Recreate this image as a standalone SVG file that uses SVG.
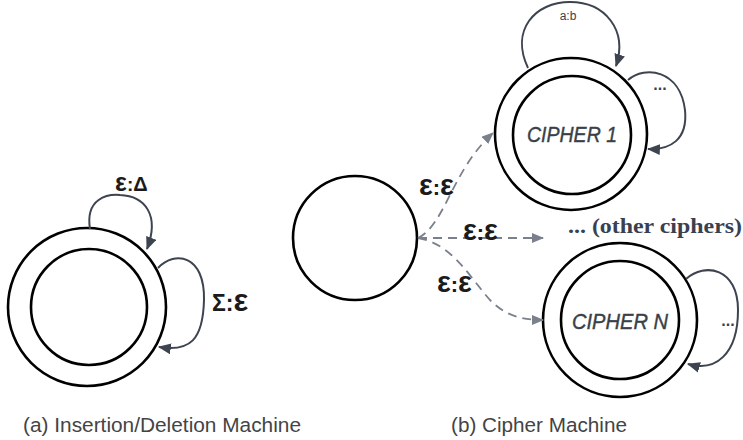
<svg xmlns="http://www.w3.org/2000/svg" width="743" height="440" viewBox="0 0 743 440">
  <style>
    .ring { fill: none; stroke: #000; stroke-width: 2.6; }
    .loop { fill: none; stroke: #3d4450; stroke-width: 2; }
    .eps { fill: none; stroke: #7b818c; stroke-width: 1.8; stroke-dasharray: 9 6; }
    .lbl { font-family: "Liberation Sans", Arial, sans-serif; font-weight: bold; fill: #1b1b1b; }
    .state { font-family: "Liberation Sans", Arial, sans-serif; font-style: italic; font-size: 22px; fill: #3a3f48; stroke: #3a3f48; stroke-width: 0.4; text-anchor: middle; }
    .small { font-family: "Liberation Sans", Arial, sans-serif; font-size: 12px; fill: #3a3f48; text-anchor: middle; }
    .dots { font-family: "Liberation Sans", Arial, sans-serif; font-weight: bold; font-size: 16px; fill: #3a3f48; text-anchor: middle; }
    .cap { font-family: "Liberation Sans", Arial, sans-serif; font-size: 20.5px; fill: #444; }
    .note { font-family: "Liberation Serif", "Times New Roman", serif; font-weight: bold; font-size: 22px; fill: #3a4050; }
  </style>
  <defs>
    <marker id="head" viewBox="0 0 12 10" refX="11" refY="5" markerWidth="13" markerHeight="11" markerUnits="userSpaceOnUse" orient="auto">
      <path d="M0 0 L12 5 L0 10 Z" fill="#3d4450"/>
    </marker>
    <marker id="head-dash" viewBox="0 0 12 10" refX="11" refY="5" markerWidth="12" markerHeight="10" markerUnits="userSpaceOnUse" orient="auto">
      <path d="M0 0 L12 5 L0 10 Z" fill="#7b818c"/>
    </marker>
  </defs>

  <!-- (a) insertion/deletion machine -->
  <g id="insdel-state">
    <circle class="ring" cx="87" cy="307" r="79"/>
    <circle class="ring" cx="89" cy="307" r="58"/>
  </g>

  <!-- (b) cipher machine states -->
  <g id="start-state">
    <circle class="ring" cx="355" cy="238" r="62"/>
  </g>
  <g id="cipher-1">
    <circle class="ring" cx="571" cy="134" r="76"/>
    <circle class="ring" cx="572" cy="135" r="59"/>
    <text class="state" x="572" y="142" textLength="90" lengthAdjust="spacingAndGlyphs">CIPHER 1</text>
  </g>
  <g id="cipher-n">
    <circle class="ring" cx="620" cy="320" r="77"/>
    <circle class="ring" cx="620" cy="320" r="59"/>
    <text class="state" x="620" y="329" textLength="96" lengthAdjust="spacingAndGlyphs">CIPHER N</text>
  </g>

  <g id="connectors">
    <!-- self loops -->
    <path class="loop" d="M 90 229 C 85 198, 108 194, 120 195 C 145 196, 160 215, 147 249" marker-end="url(#head)"/>
    <path class="loop" d="M 158 268 C 175 250, 205 255, 204 300 C 203 340, 190 352, 159 347" marker-end="url(#head)"/>
    <path class="loop" d="M 528 68 C 510 30, 535 2, 570 2 C 605 2, 628 30, 616 66" marker-end="url(#head)"/>
    <path class="loop" d="M 628 80 C 645 65, 680 70, 685 110 C 688 140, 670 150, 648 149" marker-end="url(#head)"/>
    <path class="loop" d="M 686 279 C 705 262, 738 268, 738 310 C 738 355, 715 372, 688 364" marker-end="url(#head)"/>
    <!-- epsilon transitions from the start state -->
    <path class="eps" d="M 418 238 C 445 225, 452 170, 493 133" marker-end="url(#head-dash)"/>
    <path class="eps" d="M 418 238 L 543 238" marker-end="url(#head-dash)"/>
    <path class="eps" d="M 418 238 C 452 244, 468 275, 490 300 C 505 315, 520 320, 543 320" marker-end="url(#head-dash)"/>
  </g>

  <g id="labels">
    <text class="lbl" x="115" y="191" font-size="19"><tspan font-size="25">ε</tspan>:<tspan font-size="20">Δ</tspan></text>
    <text class="lbl" x="212" y="311" font-size="23">Σ:<tspan font-size="31">ε</tspan></text>
    <text class="lbl" x="419" y="195" font-size="22"><tspan font-size="29">ε</tspan>:<tspan font-size="29">ε</tspan></text>
    <text class="lbl" x="463" y="240" font-size="22"><tspan font-size="29">ε</tspan>:<tspan font-size="29">ε</tspan></text>
    <text class="lbl" x="437" y="292" font-size="22"><tspan font-size="29">ε</tspan>:<tspan font-size="29">ε</tspan></text>
    <text class="small" x="568" y="20">a:b</text>
    <text class="dots" x="660" y="90">...</text>
    <text class="dots" x="728" y="326">...</text>
    <text class="note" x="568" y="233" textLength="174" lengthAdjust="spacingAndGlyphs">... (other ciphers)</text>
  </g>

  <text class="cap" x="23" y="432" textLength="278" lengthAdjust="spacingAndGlyphs">(a) Insertion/Deletion Machine</text>
  <text class="cap" x="451" y="432" textLength="176" lengthAdjust="spacingAndGlyphs">(b) Cipher Machine</text>
</svg>
